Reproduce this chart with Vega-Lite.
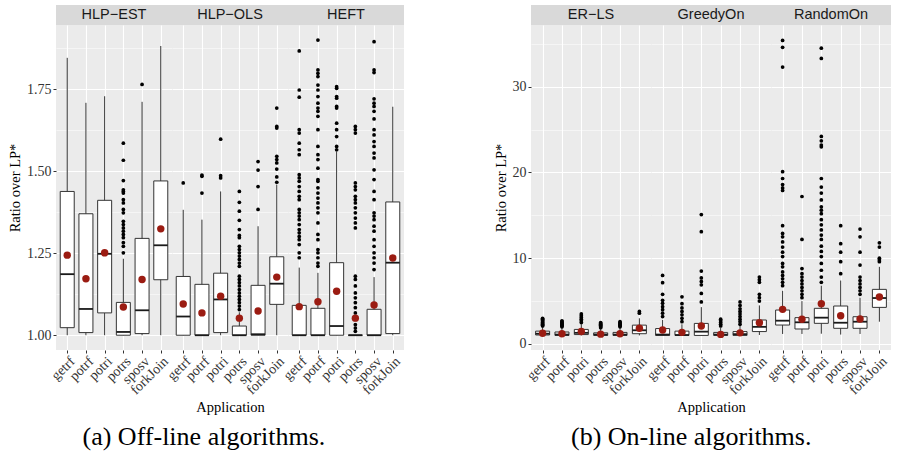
{
 "$schema": "https://vega.github.io/schema/vega-lite/v6.json",
 "background": "white",
 "padding": {"left": 7, "top": 5, "right": 0, "bottom": 0},
 "datasets": {
  "d": [
   {"p":"HLP-EST","a":"getrf","lo":1.0,"q1":1.023,"md":1.186,"q3":1.438,"hi":1.845,"mn":1.244},
   {"p":"HLP-EST","a":"potrf","lo":1.0,"q1":1.008,"md":1.080,"q3":1.370,"hi":1.708,"mn":1.172},
   {"p":"HLP-EST","a":"potri","lo":1.0,"q1":1.068,"md":1.248,"q3":1.411,"hi":1.728,"mn":1.251},
   {"p":"HLP-EST","a":"potrs","lo":1.0,"q1":1.0,"md":1.010,"q3":1.100,"hi":1.233,"mn":1.086},
   {"p":"HLP-EST","a":"sposv","lo":1.0,"q1":1.005,"md":1.076,"q3":1.295,"hi":1.711,"mn":1.170},
   {"p":"HLP-EST","a":"forkJoin","lo":1.0,"q1":1.169,"md":1.274,"q3":1.470,"hi":1.881,"mn":1.324},
   {"p":"HLP-EST","a":"potrs","v":1.585},{"p":"HLP-EST","a":"potrs","v":1.533},{"p":"HLP-EST","a":"potrs","v":1.471},{"p":"HLP-EST","a":"potrs","v":1.443},{"p":"HLP-EST","a":"potrs","v":1.438},{"p":"HLP-EST","a":"potrs","v":1.433},{"p":"HLP-EST","a":"potrs","v":1.413},{"p":"HLP-EST","a":"potrs","v":1.403},{"p":"HLP-EST","a":"potrs","v":1.383},{"p":"HLP-EST","a":"potrs","v":1.373},{"p":"HLP-EST","a":"potrs","v":1.347},{"p":"HLP-EST","a":"potrs","v":1.337},{"p":"HLP-EST","a":"potrs","v":1.327},{"p":"HLP-EST","a":"potrs","v":1.317},{"p":"HLP-EST","a":"potrs","v":1.307},{"p":"HLP-EST","a":"potrs","v":1.297},{"p":"HLP-EST","a":"potrs","v":1.282},{"p":"HLP-EST","a":"potrs","v":1.271},{"p":"HLP-EST","a":"potrs","v":1.251},
   {"p":"HLP-EST","a":"sposv","v":1.764},

   {"p":"HLP-OLS","a":"getrf","lo":1.0,"q1":1.0,"md":1.057,"q3":1.179,"hi":1.382,"mn":1.095},
   {"p":"HLP-OLS","a":"potrf","lo":1.0,"q1":1.0,"md":1.0,"q3":1.155,"hi":1.352,"mn":1.068},
   {"p":"HLP-OLS","a":"potri","lo":1.0,"q1":1.008,"md":1.109,"q3":1.189,"hi":1.438,"mn":1.119},
   {"p":"HLP-OLS","a":"potrs","lo":1.0,"q1":1.0,"md":1.0,"q3":1.028,"hi":1.07,"mn":1.052},
   {"p":"HLP-OLS","a":"sposv","lo":1.0,"q1":1.0,"md":1.003,"q3":1.152,"hi":1.332,"mn":1.074},
   {"p":"HLP-OLS","a":"forkJoin","lo":1.0,"q1":1.094,"md":1.157,"q3":1.239,"hi":1.459,"mn":1.177},
   {"p":"HLP-OLS","a":"getrf","v":1.464},
   {"p":"HLP-OLS","a":"potrf","v":1.488},{"p":"HLP-OLS","a":"potrf","v":1.484},{"p":"HLP-OLS","a":"potrf","v":1.433},
   {"p":"HLP-OLS","a":"potri","v":1.597},{"p":"HLP-OLS","a":"potri","v":1.486},{"p":"HLP-OLS","a":"potri","v":1.479},
   {"p":"HLP-OLS","a":"potrs","v":1.438},{"p":"HLP-OLS","a":"potrs","v":1.405},{"p":"HLP-OLS","a":"potrs","v":1.378},{"p":"HLP-OLS","a":"potrs","v":1.350},{"p":"HLP-OLS","a":"potrs","v":1.322},{"p":"HLP-OLS","a":"potrs","v":1.304},{"p":"HLP-OLS","a":"potrs","v":1.297},{"p":"HLP-OLS","a":"potrs","v":1.271},{"p":"HLP-OLS","a":"potrs","v":1.261},{"p":"HLP-OLS","a":"potrs","v":1.251},{"p":"HLP-OLS","a":"potrs","v":1.241},{"p":"HLP-OLS","a":"potrs","v":1.231},{"p":"HLP-OLS","a":"potrs","v":1.220},{"p":"HLP-OLS","a":"potrs","v":1.210},{"p":"HLP-OLS","a":"potrs","v":1.180},{"p":"HLP-OLS","a":"potrs","v":1.170},{"p":"HLP-OLS","a":"potrs","v":1.160},{"p":"HLP-OLS","a":"potrs","v":1.150},{"p":"HLP-OLS","a":"potrs","v":1.139},{"p":"HLP-OLS","a":"potrs","v":1.129},{"p":"HLP-OLS","a":"potrs","v":1.119},{"p":"HLP-OLS","a":"potrs","v":1.109},{"p":"HLP-OLS","a":"potrs","v":1.099},{"p":"HLP-OLS","a":"potrs","v":1.089},{"p":"HLP-OLS","a":"potrs","v":1.078},
   {"p":"HLP-OLS","a":"sposv","v":1.529},{"p":"HLP-OLS","a":"sposv","v":1.503},{"p":"HLP-OLS","a":"sposv","v":1.453},{"p":"HLP-OLS","a":"sposv","v":1.383},
   {"p":"HLP-OLS","a":"forkJoin","v":1.692},{"p":"HLP-OLS","a":"forkJoin","v":1.636},{"p":"HLP-OLS","a":"forkJoin","v":1.631},{"p":"HLP-OLS","a":"forkJoin","v":1.545},{"p":"HLP-OLS","a":"forkJoin","v":1.535},{"p":"HLP-OLS","a":"forkJoin","v":1.525},{"p":"HLP-OLS","a":"forkJoin","v":1.506},{"p":"HLP-OLS","a":"forkJoin","v":1.482},{"p":"HLP-OLS","a":"forkJoin","v":1.466},

   {"p":"HEFT","a":"getrf","lo":1.0,"q1":1.0,"md":1.0,"q3":1.091,"hi":1.206,"mn":1.087},
   {"p":"HEFT","a":"potrf","lo":1.0,"q1":1.0,"md":1.0,"q3":1.082,"hi":1.190,"mn":1.102},
   {"p":"HEFT","a":"potri","lo":1.0,"q1":1.0,"md":1.028,"q3":1.221,"hi":1.560,"mn":1.134},
   {"p":"HEFT","a":"potrs","lo":1.0,"q1":1.0,"md":1.0,"q3":1.0,"hi":1.0,"mn":1.052},
   {"p":"HEFT","a":"sposv","lo":1.0,"q1":1.0,"md":1.0,"q3":1.079,"hi":1.177,"mn":1.092},
   {"p":"HEFT","a":"forkJoin","lo":1.0,"q1":1.005,"md":1.221,"q3":1.406,"hi":1.696,"mn":1.235},
   {"p":"HEFT","a":"getrf","v":1.866},{"p":"HEFT","a":"getrf","v":1.747},{"p":"HEFT","a":"getrf","v":1.725},{"p":"HEFT","a":"getrf","v":1.626},{"p":"HEFT","a":"getrf","v":1.616},{"p":"HEFT","a":"getrf","v":1.585},{"p":"HEFT","a":"getrf","v":1.565},{"p":"HEFT","a":"getrf","v":1.550},{"p":"HEFT","a":"getrf","v":1.489},{"p":"HEFT","a":"getrf","v":1.479},{"p":"HEFT","a":"getrf","v":1.469},{"p":"HEFT","a":"getrf","v":1.453},{"p":"HEFT","a":"getrf","v":1.438},{"p":"HEFT","a":"getrf","v":1.423},{"p":"HEFT","a":"getrf","v":1.413},{"p":"HEFT","a":"getrf","v":1.383},{"p":"HEFT","a":"getrf","v":1.373},{"p":"HEFT","a":"getrf","v":1.363},{"p":"HEFT","a":"getrf","v":1.352},{"p":"HEFT","a":"getrf","v":1.337},{"p":"HEFT","a":"getrf","v":1.322},{"p":"HEFT","a":"getrf","v":1.312},{"p":"HEFT","a":"getrf","v":1.301},{"p":"HEFT","a":"getrf","v":1.291},{"p":"HEFT","a":"getrf","v":1.276},{"p":"HEFT","a":"getrf","v":1.251},{"p":"HEFT","a":"getrf","v":1.236},
   {"p":"HEFT","a":"potrf","v":1.899},{"p":"HEFT","a":"potrf","v":1.808},{"p":"HEFT","a":"potrf","v":1.798},{"p":"HEFT","a":"potrf","v":1.788},{"p":"HEFT","a":"potrf","v":1.762},{"p":"HEFT","a":"potrf","v":1.747},{"p":"HEFT","a":"potrf","v":1.727},{"p":"HEFT","a":"potrf","v":1.707},{"p":"HEFT","a":"potrf","v":1.692},{"p":"HEFT","a":"potrf","v":1.682},{"p":"HEFT","a":"potrf","v":1.667},{"p":"HEFT","a":"potrf","v":1.626},{"p":"HEFT","a":"potrf","v":1.575},{"p":"HEFT","a":"potrf","v":1.550},{"p":"HEFT","a":"potrf","v":1.535},{"p":"HEFT","a":"potrf","v":1.509},{"p":"HEFT","a":"potrf","v":1.474},{"p":"HEFT","a":"potrf","v":1.469},{"p":"HEFT","a":"potrf","v":1.449},{"p":"HEFT","a":"potrf","v":1.433},{"p":"HEFT","a":"potrf","v":1.418},{"p":"HEFT","a":"potrf","v":1.403},{"p":"HEFT","a":"potrf","v":1.388},{"p":"HEFT","a":"potrf","v":1.373},{"p":"HEFT","a":"potrf","v":1.342},{"p":"HEFT","a":"potrf","v":1.307},{"p":"HEFT","a":"potrf","v":1.291},{"p":"HEFT","a":"potrf","v":1.261},{"p":"HEFT","a":"potrf","v":1.251},{"p":"HEFT","a":"potrf","v":1.236},{"p":"HEFT","a":"potrf","v":1.220},{"p":"HEFT","a":"potrf","v":1.210},
   {"p":"HEFT","a":"potri","v":1.757},{"p":"HEFT","a":"potri","v":1.752},{"p":"HEFT","a":"potri","v":1.727},{"p":"HEFT","a":"potri","v":1.722},{"p":"HEFT","a":"potri","v":1.697},{"p":"HEFT","a":"potri","v":1.692},{"p":"HEFT","a":"potri","v":1.646},{"p":"HEFT","a":"potri","v":1.626},{"p":"HEFT","a":"potri","v":1.605},{"p":"HEFT","a":"potri","v":1.575},{"p":"HEFT","a":"potri","v":1.565},
   {"p":"HEFT","a":"potrs","v":1.636},{"p":"HEFT","a":"potrs","v":1.626},{"p":"HEFT","a":"potrs","v":1.616},{"p":"HEFT","a":"potrs","v":1.464},{"p":"HEFT","a":"potrs","v":1.453},{"p":"HEFT","a":"potrs","v":1.443},{"p":"HEFT","a":"potrs","v":1.423},{"p":"HEFT","a":"potrs","v":1.413},{"p":"HEFT","a":"potrs","v":1.403},{"p":"HEFT","a":"potrs","v":1.388},{"p":"HEFT","a":"potrs","v":1.373},{"p":"HEFT","a":"potrs","v":1.357},{"p":"HEFT","a":"potrs","v":1.342},{"p":"HEFT","a":"potrs","v":1.327},{"p":"HEFT","a":"potrs","v":1.180},{"p":"HEFT","a":"potrs","v":1.170},{"p":"HEFT","a":"potrs","v":1.150},{"p":"HEFT","a":"potrs","v":1.129},{"p":"HEFT","a":"potrs","v":1.114},{"p":"HEFT","a":"potrs","v":1.099},{"p":"HEFT","a":"potrs","v":1.084},{"p":"HEFT","a":"potrs","v":1.068},{"p":"HEFT","a":"potrs","v":1.048},{"p":"HEFT","a":"potrs","v":1.032},{"p":"HEFT","a":"potrs","v":1.022},{"p":"HEFT","a":"potrs","v":1.012},
   {"p":"HEFT","a":"sposv","v":1.894},{"p":"HEFT","a":"sposv","v":1.808},{"p":"HEFT","a":"sposv","v":1.800},{"p":"HEFT","a":"sposv","v":1.720},{"p":"HEFT","a":"sposv","v":1.707},{"p":"HEFT","a":"sposv","v":1.697},{"p":"HEFT","a":"sposv","v":1.682},{"p":"HEFT","a":"sposv","v":1.659},{"p":"HEFT","a":"sposv","v":1.626},{"p":"HEFT","a":"sposv","v":1.610},{"p":"HEFT","a":"sposv","v":1.590},{"p":"HEFT","a":"sposv","v":1.575},{"p":"HEFT","a":"sposv","v":1.555},{"p":"HEFT","a":"sposv","v":1.540},{"p":"HEFT","a":"sposv","v":1.504},{"p":"HEFT","a":"sposv","v":1.474},{"p":"HEFT","a":"sposv","v":1.438},{"p":"HEFT","a":"sposv","v":1.413},{"p":"HEFT","a":"sposv","v":1.373},{"p":"HEFT","a":"sposv","v":1.363},{"p":"HEFT","a":"sposv","v":1.352},{"p":"HEFT","a":"sposv","v":1.332},{"p":"HEFT","a":"sposv","v":1.317},{"p":"HEFT","a":"sposv","v":1.291},{"p":"HEFT","a":"sposv","v":1.271},{"p":"HEFT","a":"sposv","v":1.251},{"p":"HEFT","a":"sposv","v":1.236},{"p":"HEFT","a":"sposv","v":1.220},{"p":"HEFT","a":"sposv","v":1.200},

   {"p":"ER-LS","a":"getrf","lo":1.0,"q1":1.05,"md":1.2,"q3":1.5,"hi":2.0,"mn":1.25},
   {"p":"ER-LS","a":"potrf","lo":1.0,"q1":1.0,"md":1.1,"q3":1.4,"hi":1.9,"mn":1.2},
   {"p":"ER-LS","a":"potri","lo":1.0,"q1":1.1,"md":1.3,"q3":1.7,"hi":2.3,"mn":1.45},
   {"p":"ER-LS","a":"potrs","lo":1.0,"q1":1.0,"md":1.1,"q3":1.3,"hi":1.8,"mn":1.15},
   {"p":"ER-LS","a":"sposv","lo":1.0,"q1":1.0,"md":1.1,"q3":1.35,"hi":1.9,"mn":1.2},
   {"p":"ER-LS","a":"forkJoin","lo":1.0,"q1":1.2,"md":1.6,"q3":2.2,"hi":3.0,"mn":1.83},
   {"p":"ER-LS","a":"getrf","v":2.1},{"p":"ER-LS","a":"getrf","v":2.2},{"p":"ER-LS","a":"getrf","v":2.3},{"p":"ER-LS","a":"getrf","v":2.4},{"p":"ER-LS","a":"getrf","v":2.5},{"p":"ER-LS","a":"getrf","v":2.6},{"p":"ER-LS","a":"getrf","v":2.7},{"p":"ER-LS","a":"getrf","v":2.8},{"p":"ER-LS","a":"getrf","v":2.9},{"p":"ER-LS","a":"getrf","v":3.0},
   {"p":"ER-LS","a":"potrf","v":2.0},{"p":"ER-LS","a":"potrf","v":2.1},{"p":"ER-LS","a":"potrf","v":2.2},{"p":"ER-LS","a":"potrf","v":2.3},{"p":"ER-LS","a":"potrf","v":2.4},{"p":"ER-LS","a":"potrf","v":2.5},{"p":"ER-LS","a":"potrf","v":2.6},{"p":"ER-LS","a":"potrf","v":2.7},
   {"p":"ER-LS","a":"potri","v":2.5},{"p":"ER-LS","a":"potri","v":2.7},{"p":"ER-LS","a":"potri","v":2.9},{"p":"ER-LS","a":"potri","v":3.1},{"p":"ER-LS","a":"potri","v":3.3},{"p":"ER-LS","a":"potri","v":3.5},
   {"p":"ER-LS","a":"potrs","v":1.9},{"p":"ER-LS","a":"potrs","v":2.0},{"p":"ER-LS","a":"potrs","v":2.1},{"p":"ER-LS","a":"potrs","v":2.2},{"p":"ER-LS","a":"potrs","v":2.3},{"p":"ER-LS","a":"potrs","v":2.4},{"p":"ER-LS","a":"potrs","v":2.5},
   {"p":"ER-LS","a":"sposv","v":2.0},{"p":"ER-LS","a":"sposv","v":2.1},{"p":"ER-LS","a":"sposv","v":2.2},{"p":"ER-LS","a":"sposv","v":2.3},{"p":"ER-LS","a":"sposv","v":2.4},{"p":"ER-LS","a":"sposv","v":2.5},{"p":"ER-LS","a":"sposv","v":2.6},
   {"p":"ER-LS","a":"forkJoin","v":3.6},{"p":"ER-LS","a":"forkJoin","v":3.8},

   {"p":"GreedyOn","a":"getrf","lo":1.0,"q1":1.0,"md":1.1,"q3":1.8,"hi":2.8,"mn":1.63},
   {"p":"GreedyOn","a":"potrf","lo":1.0,"q1":1.0,"md":1.05,"q3":1.5,"hi":2.3,"mn":1.36},
   {"p":"GreedyOn","a":"potri","lo":1.0,"q1":1.0,"md":1.44,"q3":2.4,"hi":4.3,"mn":2.1},
   {"p":"GreedyOn","a":"potrs","lo":1.0,"q1":1.0,"md":1.1,"q3":1.35,"hi":1.9,"mn":1.12},
   {"p":"GreedyOn","a":"sposv","lo":1.0,"q1":1.0,"md":1.15,"q3":1.45,"hi":2.1,"mn":1.3},
   {"p":"GreedyOn","a":"forkJoin","lo":1.05,"q1":1.45,"md":2.0,"q3":2.8,"hi":4.5,"mn":2.48},
   {"p":"GreedyOn","a":"getrf","v":3.2},{"p":"GreedyOn","a":"getrf","v":3.6},{"p":"GreedyOn","a":"getrf","v":4.0},{"p":"GreedyOn","a":"getrf","v":4.35},{"p":"GreedyOn","a":"getrf","v":4.75},{"p":"GreedyOn","a":"getrf","v":5.1},{"p":"GreedyOn","a":"getrf","v":5.8},{"p":"GreedyOn","a":"getrf","v":7.15},{"p":"GreedyOn","a":"getrf","v":8.0},
   {"p":"GreedyOn","a":"potrf","v":2.6},{"p":"GreedyOn","a":"potrf","v":3.0},{"p":"GreedyOn","a":"potrf","v":3.4},{"p":"GreedyOn","a":"potrf","v":3.8},{"p":"GreedyOn","a":"potrf","v":4.2},{"p":"GreedyOn","a":"potrf","v":4.7},{"p":"GreedyOn","a":"potrf","v":5.5},
   {"p":"GreedyOn","a":"potri","v":4.9},{"p":"GreedyOn","a":"potri","v":5.9},{"p":"GreedyOn","a":"potri","v":6.9},{"p":"GreedyOn","a":"potri","v":7.3},{"p":"GreedyOn","a":"potri","v":7.7},{"p":"GreedyOn","a":"potri","v":8.5},{"p":"GreedyOn","a":"potri","v":13.1},{"p":"GreedyOn","a":"potri","v":15.1},
   {"p":"GreedyOn","a":"potrs","v":2.1},{"p":"GreedyOn","a":"potrs","v":2.3},{"p":"GreedyOn","a":"potrs","v":2.5},{"p":"GreedyOn","a":"potrs","v":2.7},{"p":"GreedyOn","a":"potrs","v":2.9},
   {"p":"GreedyOn","a":"sposv","v":2.3},{"p":"GreedyOn","a":"sposv","v":2.6},{"p":"GreedyOn","a":"sposv","v":2.9},{"p":"GreedyOn","a":"sposv","v":3.2},{"p":"GreedyOn","a":"sposv","v":3.5},{"p":"GreedyOn","a":"sposv","v":3.8},{"p":"GreedyOn","a":"sposv","v":4.1},{"p":"GreedyOn","a":"sposv","v":4.5},{"p":"GreedyOn","a":"sposv","v":4.9},
   {"p":"GreedyOn","a":"forkJoin","v":5.0},{"p":"GreedyOn","a":"forkJoin","v":5.4},{"p":"GreedyOn","a":"forkJoin","v":5.8},{"p":"GreedyOn","a":"forkJoin","v":7.2},{"p":"GreedyOn","a":"forkJoin","v":7.5},{"p":"GreedyOn","a":"forkJoin","v":7.8},

   {"p":"RandomOn","a":"getrf","lo":1.17,"q1":2.21,"md":2.72,"q3":3.96,"hi":6.2,"mn":4.04},
   {"p":"RandomOn","a":"potrf","lo":1.17,"q1":1.75,"md":2.53,"q3":3.07,"hi":5.0,"mn":2.88},
   {"p":"RandomOn","a":"potri","lo":1.2,"q1":2.41,"md":3.07,"q3":4.16,"hi":6.8,"mn":4.70},
   {"p":"RandomOn","a":"potrs","lo":1.1,"q1":1.83,"md":2.48,"q3":4.43,"hi":7.4,"mn":3.30},
   {"p":"RandomOn","a":"sposv","lo":1.17,"q1":1.83,"md":2.6,"q3":3.18,"hi":5.4,"mn":2.91},
   {"p":"RandomOn","a":"forkJoin","lo":2.6,"q1":4.27,"md":5.36,"q3":6.37,"hi":9.0,"mn":5.48},
   {"p":"RandomOn","a":"getrf","v":6.8},{"p":"RandomOn","a":"getrf","v":7.2},{"p":"RandomOn","a":"getrf","v":7.6},{"p":"RandomOn","a":"getrf","v":8.0},{"p":"RandomOn","a":"getrf","v":8.4},{"p":"RandomOn","a":"getrf","v":9.0},{"p":"RandomOn","a":"getrf","v":9.4},{"p":"RandomOn","a":"getrf","v":10.2},{"p":"RandomOn","a":"getrf","v":10.7},{"p":"RandomOn","a":"getrf","v":11.3},{"p":"RandomOn","a":"getrf","v":11.9},{"p":"RandomOn","a":"getrf","v":12.5},{"p":"RandomOn","a":"getrf","v":12.9},{"p":"RandomOn","a":"getrf","v":13.8},{"p":"RandomOn","a":"getrf","v":17.9},{"p":"RandomOn","a":"getrf","v":18.2},{"p":"RandomOn","a":"getrf","v":18.6},{"p":"RandomOn","a":"getrf","v":19.3},{"p":"RandomOn","a":"getrf","v":20.1},{"p":"RandomOn","a":"getrf","v":32.3},{"p":"RandomOn","a":"getrf","v":34.6},{"p":"RandomOn","a":"getrf","v":35.4},
   {"p":"RandomOn","a":"potrf","v":5.4},{"p":"RandomOn","a":"potrf","v":5.8},{"p":"RandomOn","a":"potrf","v":6.2},{"p":"RandomOn","a":"potrf","v":6.6},{"p":"RandomOn","a":"potrf","v":7.0},{"p":"RandomOn","a":"potrf","v":7.4},{"p":"RandomOn","a":"potrf","v":7.8},{"p":"RandomOn","a":"potrf","v":8.2},{"p":"RandomOn","a":"potrf","v":8.8},{"p":"RandomOn","a":"potrf","v":12.2},{"p":"RandomOn","a":"potrf","v":17.2},
   {"p":"RandomOn","a":"potri","v":7.2},{"p":"RandomOn","a":"potri","v":7.8},{"p":"RandomOn","a":"potri","v":8.6},{"p":"RandomOn","a":"potri","v":9.4},{"p":"RandomOn","a":"potri","v":10.2},{"p":"RandomOn","a":"potri","v":10.8},{"p":"RandomOn","a":"potri","v":11.4},{"p":"RandomOn","a":"potri","v":12.2},{"p":"RandomOn","a":"potri","v":12.7},{"p":"RandomOn","a":"potri","v":13.3},{"p":"RandomOn","a":"potri","v":13.9},{"p":"RandomOn","a":"potri","v":14.5},{"p":"RandomOn","a":"potri","v":15.2},{"p":"RandomOn","a":"potri","v":15.6},{"p":"RandomOn","a":"potri","v":16.0},{"p":"RandomOn","a":"potri","v":16.8},{"p":"RandomOn","a":"potri","v":17.6},{"p":"RandomOn","a":"potri","v":18.3},{"p":"RandomOn","a":"potri","v":19.3},{"p":"RandomOn","a":"potri","v":23.0},{"p":"RandomOn","a":"potri","v":23.2},{"p":"RandomOn","a":"potri","v":23.7},{"p":"RandomOn","a":"potri","v":24.2},{"p":"RandomOn","a":"potri","v":33.3},{"p":"RandomOn","a":"potri","v":34.5},
   {"p":"RandomOn","a":"potrs","v":8.2},{"p":"RandomOn","a":"potrs","v":9.6},{"p":"RandomOn","a":"potrs","v":10.7},{"p":"RandomOn","a":"potrs","v":11.7},{"p":"RandomOn","a":"potrs","v":13.8},
   {"p":"RandomOn","a":"sposv","v":5.8},{"p":"RandomOn","a":"sposv","v":6.2},{"p":"RandomOn","a":"sposv","v":6.6},{"p":"RandomOn","a":"sposv","v":7.0},{"p":"RandomOn","a":"sposv","v":7.4},{"p":"RandomOn","a":"sposv","v":7.8},{"p":"RandomOn","a":"sposv","v":9.2},{"p":"RandomOn","a":"sposv","v":10.7},{"p":"RandomOn","a":"sposv","v":12.5},{"p":"RandomOn","a":"sposv","v":13.4},
   {"p":"RandomOn","a":"forkJoin","v":9.6},{"p":"RandomOn","a":"forkJoin","v":9.8},{"p":"RandomOn","a":"forkJoin","v":10.0},{"p":"RandomOn","a":"forkJoin","v":11.3},{"p":"RandomOn","a":"forkJoin","v":11.8}
  ]
 },
 "spacing": 89,
 "hconcat": [
  {
   "title": {"text": "(a) Off-line algorithms.", "orient": "bottom", "anchor": "start", "dx": 75, "font": "Liberation Serif", "fontSize": 26, "fontWeight": "normal", "color": "#000", "offset": 10},
   "spacing": -11,
   "hconcat": [
    {"spacing": 0, "bounds": "flush", "vconcat": [
     {"width": 116, "height": 20, "view": {"fill": "#D9D9D9", "stroke": null}, "data": {"values": [{"s": "HLP−EST"}]}, "mark": {"type": "text", "font": "Liberation Sans", "fontSize": 14.5, "color": "#1A1A1A"}, "encoding": {"text": {"field": "s"}}},
     {"width": 116, "height": 325, "view": {"fill": "#EBEBEB", "stroke": null},
      "data": {"name": "d"}, "transform": [{"filter": "datum.p == 'HLP-EST'"}],
      "encoding": {"x": {"field": "a", "type": "nominal", "sort": ["getrf","potrf","potri","potrs","sposv","forkJoin"], "scale": {"type": "point", "padding": 0.6}, "axis": {"title": null}}},
      "layer": [
       {"mark": {"type": "rule", "color": "#333333", "strokeWidth": 1}, "encoding": {"y": {"field": "lo", "type": "quantitative", "scale": {"domain": [0.955, 1.945], "nice": false, "zero": false}, "axis": {"title": "Ratio over LP*", "values": [1,1.125,1.25,1.375,1.5,1.625,1.75,1.875], "labelExpr": "(datum.value*4)%1==0 ? format(datum.value,'.2f') : ''", "tickOpacity": {"condition": {"test": "(datum.value*4)%1==0", "value": 1}, "value": 0}, "gridWidth": {"condition": {"test": "(datum.value*4)%1==0", "value": 1.1}, "value": 0.5}}}, "y2": {"field": "hi"}}},
       {"mark": {"type": "bar", "size": 14, "fill": "white", "stroke": "#333333", "strokeWidth": 1}, "encoding": {"y": {"field": "q1", "type": "quantitative"}, "y2": {"field": "q3"}}},
       {"mark": {"type": "tick", "size": 14, "thickness": 1.8, "color": "#1A1A1A", "orient": "horizontal", "opacity": 1}, "encoding": {"y": {"field": "md", "type": "quantitative"}}},
       {"mark": {"type": "point", "filled": true, "size": 14, "color": "#000000", "opacity": 1}, "encoding": {"y": {"field": "v", "type": "quantitative"}}},
       {"mark": {"type": "point", "filled": true, "size": 55, "color": "#9B1C12", "opacity": 1}, "encoding": {"y": {"field": "mn", "type": "quantitative"}}}
      ]}
    ]},
    {"spacing": 0, "bounds": "flush", "vconcat": [
     {"width": 116, "height": 20, "view": {"fill": "#D9D9D9", "stroke": null}, "data": {"values": [{"s": "HLP−OLS"}]}, "mark": {"type": "text", "font": "Liberation Sans", "fontSize": 14.5, "color": "#1A1A1A"}, "encoding": {"text": {"field": "s"}}},
     {"width": 116, "height": 325, "view": {"fill": "#EBEBEB", "stroke": null},
      "data": {"name": "d"}, "transform": [{"filter": "datum.p == 'HLP-OLS'"}],
      "encoding": {"x": {"field": "a", "type": "nominal", "sort": ["getrf","potrf","potri","potrs","sposv","forkJoin"], "scale": {"type": "point", "padding": 0.6}, "axis": {"title": "Application"}}},
      "layer": [
       {"mark": {"type": "rule", "color": "#333333", "strokeWidth": 1}, "encoding": {"y": {"field": "lo", "type": "quantitative", "scale": {"domain": [0.955, 1.945], "nice": false, "zero": false}, "axis": {"title": null, "labels": false, "ticks": false, "values": [1,1.125,1.25,1.375,1.5,1.625,1.75,1.875], "gridWidth": {"condition": {"test": "(datum.value*4)%1==0", "value": 1.1}, "value": 0.5}}}, "y2": {"field": "hi"}}},
       {"mark": {"type": "bar", "size": 14, "fill": "white", "stroke": "#333333", "strokeWidth": 1}, "encoding": {"y": {"field": "q1", "type": "quantitative"}, "y2": {"field": "q3"}}},
       {"mark": {"type": "tick", "size": 14, "thickness": 1.8, "color": "#1A1A1A", "orient": "horizontal", "opacity": 1}, "encoding": {"y": {"field": "md", "type": "quantitative"}}},
       {"mark": {"type": "point", "filled": true, "size": 14, "color": "#000000", "opacity": 1}, "encoding": {"y": {"field": "v", "type": "quantitative"}}},
       {"mark": {"type": "point", "filled": true, "size": 55, "color": "#9B1C12", "opacity": 1}, "encoding": {"y": {"field": "mn", "type": "quantitative"}}}
      ]}
    ]},
    {"spacing": 0, "bounds": "flush", "vconcat": [
     {"width": 116, "height": 20, "view": {"fill": "#D9D9D9", "stroke": null}, "data": {"values": [{"s": "HEFT"}]}, "mark": {"type": "text", "font": "Liberation Sans", "fontSize": 14.5, "color": "#1A1A1A"}, "encoding": {"text": {"field": "s"}}},
     {"width": 116, "height": 325, "view": {"fill": "#EBEBEB", "stroke": null},
      "data": {"name": "d"}, "transform": [{"filter": "datum.p == 'HEFT'"}],
      "encoding": {"x": {"field": "a", "type": "nominal", "sort": ["getrf","potrf","potri","potrs","sposv","forkJoin"], "scale": {"type": "point", "padding": 0.6}, "axis": {"title": null}}},
      "layer": [
       {"mark": {"type": "rule", "color": "#333333", "strokeWidth": 1}, "encoding": {"y": {"field": "lo", "type": "quantitative", "scale": {"domain": [0.955, 1.945], "nice": false, "zero": false}, "axis": {"title": null, "labels": false, "ticks": false, "values": [1,1.125,1.25,1.375,1.5,1.625,1.75,1.875], "gridWidth": {"condition": {"test": "(datum.value*4)%1==0", "value": 1.1}, "value": 0.5}}}, "y2": {"field": "hi"}}},
       {"mark": {"type": "bar", "size": 14, "fill": "white", "stroke": "#333333", "strokeWidth": 1}, "encoding": {"y": {"field": "q1", "type": "quantitative"}, "y2": {"field": "q3"}}},
       {"mark": {"type": "tick", "size": 14, "thickness": 1.8, "color": "#1A1A1A", "orient": "horizontal", "opacity": 1}, "encoding": {"y": {"field": "md", "type": "quantitative"}}},
       {"mark": {"type": "point", "filled": true, "size": 14, "color": "#000000", "opacity": 1}, "encoding": {"y": {"field": "v", "type": "quantitative"}}},
       {"mark": {"type": "point", "filled": true, "size": 55, "color": "#9B1C12", "opacity": 1}, "encoding": {"y": {"field": "mn", "type": "quantitative"}}}
      ]}
    ]}
   ]
  },
  {
   "title": {"text": "(b) On-line algorithms.", "orient": "bottom", "anchor": "start", "dx": 78, "font": "Liberation Serif", "fontSize": 26, "fontWeight": "normal", "color": "#000", "offset": 10},
   "spacing": -11,
   "hconcat": [
    {"spacing": 0, "bounds": "flush", "vconcat": [
     {"width": 120, "height": 20, "view": {"fill": "#D9D9D9", "stroke": null}, "data": {"values": [{"s": "ER−LS"}]}, "mark": {"type": "text", "font": "Liberation Sans", "fontSize": 14.5, "color": "#1A1A1A"}, "encoding": {"text": {"field": "s"}}},
     {"width": 120, "height": 325, "view": {"fill": "#EBEBEB", "stroke": null},
      "data": {"name": "d"}, "transform": [{"filter": "datum.p == 'ER-LS'"}],
      "encoding": {"x": {"field": "a", "type": "nominal", "sort": ["getrf","potrf","potri","potrs","sposv","forkJoin"], "scale": {"type": "point", "padding": 0.6}, "axis": {"title": null}}},
      "layer": [
       {"mark": {"type": "rule", "color": "#333333", "strokeWidth": 1}, "encoding": {"y": {"field": "lo", "type": "quantitative", "scale": {"domain": [-0.7, 37.2], "nice": false, "zero": false}, "axis": {"title": "Ratio over LP*", "values": [0,5,10,15,20,25,30,35], "labelExpr": "datum.value%10==0 ? datum.label : ''", "tickOpacity": {"condition": {"test": "datum.value%10==0", "value": 1}, "value": 0}, "gridWidth": {"condition": {"test": "datum.value%10==0", "value": 1.1}, "value": 0.5}}}, "y2": {"field": "hi"}}},
       {"mark": {"type": "bar", "size": 14, "fill": "white", "stroke": "#333333", "strokeWidth": 1}, "encoding": {"y": {"field": "q1", "type": "quantitative"}, "y2": {"field": "q3"}}},
       {"mark": {"type": "tick", "size": 14, "thickness": 1.8, "color": "#1A1A1A", "orient": "horizontal", "opacity": 1}, "encoding": {"y": {"field": "md", "type": "quantitative"}}},
       {"mark": {"type": "point", "filled": true, "size": 14, "color": "#000000", "opacity": 1}, "encoding": {"y": {"field": "v", "type": "quantitative"}}},
       {"mark": {"type": "point", "filled": true, "size": 55, "color": "#9B1C12", "opacity": 1}, "encoding": {"y": {"field": "mn", "type": "quantitative"}}}
      ]}
    ]},
    {"spacing": 0, "bounds": "flush", "vconcat": [
     {"width": 120, "height": 20, "view": {"fill": "#D9D9D9", "stroke": null}, "data": {"values": [{"s": "GreedyOn"}]}, "mark": {"type": "text", "font": "Liberation Sans", "fontSize": 14.5, "color": "#1A1A1A"}, "encoding": {"text": {"field": "s"}}},
     {"width": 120, "height": 325, "view": {"fill": "#EBEBEB", "stroke": null},
      "data": {"name": "d"}, "transform": [{"filter": "datum.p == 'GreedyOn'"}],
      "encoding": {"x": {"field": "a", "type": "nominal", "sort": ["getrf","potrf","potri","potrs","sposv","forkJoin"], "scale": {"type": "point", "padding": 0.6}, "axis": {"title": "Application"}}},
      "layer": [
       {"mark": {"type": "rule", "color": "#333333", "strokeWidth": 1}, "encoding": {"y": {"field": "lo", "type": "quantitative", "scale": {"domain": [-0.7, 37.2], "nice": false, "zero": false}, "axis": {"title": null, "labels": false, "ticks": false, "values": [0,5,10,15,20,25,30,35], "gridWidth": {"condition": {"test": "datum.value%10==0", "value": 1.1}, "value": 0.5}}}, "y2": {"field": "hi"}}},
       {"mark": {"type": "bar", "size": 14, "fill": "white", "stroke": "#333333", "strokeWidth": 1}, "encoding": {"y": {"field": "q1", "type": "quantitative"}, "y2": {"field": "q3"}}},
       {"mark": {"type": "tick", "size": 14, "thickness": 1.8, "color": "#1A1A1A", "orient": "horizontal", "opacity": 1}, "encoding": {"y": {"field": "md", "type": "quantitative"}}},
       {"mark": {"type": "point", "filled": true, "size": 14, "color": "#000000", "opacity": 1}, "encoding": {"y": {"field": "v", "type": "quantitative"}}},
       {"mark": {"type": "point", "filled": true, "size": 55, "color": "#9B1C12", "opacity": 1}, "encoding": {"y": {"field": "mn", "type": "quantitative"}}}
      ]}
    ]},
    {"spacing": 0, "bounds": "flush", "vconcat": [
     {"width": 120, "height": 20, "view": {"fill": "#D9D9D9", "stroke": null}, "data": {"values": [{"s": "RandomOn"}]}, "mark": {"type": "text", "font": "Liberation Sans", "fontSize": 14.5, "color": "#1A1A1A"}, "encoding": {"text": {"field": "s"}}},
     {"width": 120, "height": 325, "view": {"fill": "#EBEBEB", "stroke": null},
      "data": {"name": "d"}, "transform": [{"filter": "datum.p == 'RandomOn'"}],
      "encoding": {"x": {"field": "a", "type": "nominal", "sort": ["getrf","potrf","potri","potrs","sposv","forkJoin"], "scale": {"type": "point", "padding": 0.6}, "axis": {"title": null}}},
      "layer": [
       {"mark": {"type": "rule", "color": "#333333", "strokeWidth": 1}, "encoding": {"y": {"field": "lo", "type": "quantitative", "scale": {"domain": [-0.7, 37.2], "nice": false, "zero": false}, "axis": {"title": null, "labels": false, "ticks": false, "values": [0,5,10,15,20,25,30,35], "gridWidth": {"condition": {"test": "datum.value%10==0", "value": 1.1}, "value": 0.5}}}, "y2": {"field": "hi"}}},
       {"mark": {"type": "bar", "size": 14, "fill": "white", "stroke": "#333333", "strokeWidth": 1}, "encoding": {"y": {"field": "q1", "type": "quantitative"}, "y2": {"field": "q3"}}},
       {"mark": {"type": "tick", "size": 14, "thickness": 1.8, "color": "#1A1A1A", "orient": "horizontal", "opacity": 1}, "encoding": {"y": {"field": "md", "type": "quantitative"}}},
       {"mark": {"type": "point", "filled": true, "size": 14, "color": "#000000", "opacity": 1}, "encoding": {"y": {"field": "v", "type": "quantitative"}}},
       {"mark": {"type": "point", "filled": true, "size": 55, "color": "#9B1C12", "opacity": 1}, "encoding": {"y": {"field": "mn", "type": "quantitative"}}}
      ]}
    ]}
   ]
  }
 ],
 "config": {
  "font": "Liberation Serif",
  "view": {"stroke": null},
  "axis": {"labelFont": "Liberation Serif", "labelFontSize": 14, "labelColor": "#333333", "titleFont": "Liberation Serif", "titleFontSize": 14.5, "titleFontWeight": "normal", "titleColor": "#000000", "tickColor": "#333333", "tickSize": 3, "domain": false, "gridColor": "#FFFFFF", "grid": true},
  "axisY": {"labelPadding": 2, "titlePadding": 4},
  "axisX": {"labelAngle": -45, "labelAlign": "right", "labelBaseline": "top", "labelPadding": 1, "labelOverlap": false, "labelBound": false, "gridWidth": 1.1, "titlePadding": 4}
 }
}
